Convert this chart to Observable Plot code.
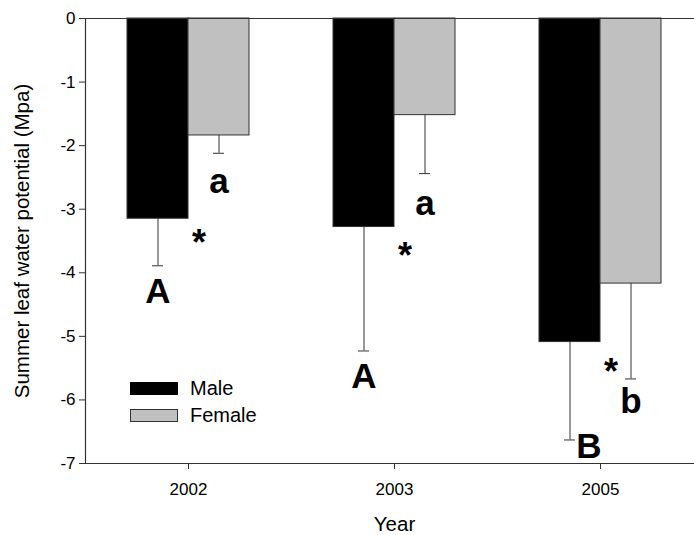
<!DOCTYPE html>
<html>
<head>
<meta charset="utf-8">
<script src="https://cdn.jsdelivr.net/npm/d3@7"></script>
<script src="https://cdn.jsdelivr.net/npm/@observablehq/plot@0.6"></script>
<style>
  html, body { margin: 0; padding: 0; background: #fff; overflow: hidden; }
  #wrap { position: relative; width: 694px; height: 535px; font-family: "Liberation Sans", Arial, sans-serif; }
  #wrap svg { display: block; }
  .lg-item { position: absolute; left: 130px; height: 20px; line-height: 20px; font-size: 20px; color: #000; white-space: nowrap; }
  .lg-box { position: absolute; left: 0; width: 48px; height: 13px; box-sizing: border-box; }
  .lg-text { position: absolute; left: 60px; top: 0; }
</style>
</head>
<body>
<div id="wrap"></div>
<script>
// ---- data ----
const years = ["2002", "2003", "2005"];
const sexes = ["Male", "Female"];
const sexColors = ["#000000", "#c0c0c0"];
const maleMean = [-3.15, -3.28, -5.09];
const femaleMean = [-1.84, -1.52, -4.17];
const maleLower = [-3.89, -5.23, -6.63];     // end of error bar
const femaleLower = [-2.12, -2.44, -5.67];
const maleLetters = ["A", "A", "B"];
const femaleLetters = ["a", "a", "b"];
const maleLetterY = [-4.48, -5.81, -6.91];   // letter baselines (data units)
const femaleLetterY = [-2.75, -3.09, -6.21];
const starY = [-3.41, -3.61, -5.45];          // asterisk centres (data units)
const yTicks = [0, -1, -2, -3, -4, -5, -6, -7];

const rows = years.flatMap((yr, i) => [
  {year: yr, sex: "Male", mean: maleMean[i], lower: maleLower[i], letter: maleLetters[i], letterY: maleLetterY[i]},
  {year: yr, sex: "Female", mean: femaleMean[i], lower: femaleLower[i], letter: femaleLetters[i], letterY: femaleLetterY[i]}
]);
const stars = years.map((yr, i) => ({year: yr, y: starY[i]}));

const font = "'Liberation Sans', Arial, sans-serif";
const ink = "#333333";

const chart = Plot.plot({
  width: 694,
  height: 535,
  marginLeft: 84,
  marginRight: -10,
  marginTop: 18,
  marginBottom: 72,
  style: {fontFamily: font, background: "#fff", color: "#000", overflow: "hidden"},
  fx: {domain: years, padding: 0, label: null},
  x: {domain: sexes, paddingInner: 0, paddingOuter: 0.667, axis: null},
  y: {domain: [-7, 0]},
  color: {domain: sexes, range: sexColors},
  marks: [
    Plot.barY(rows, {fx: "year", x: "sex", y1: 0, y2: "mean", fill: "sex", stroke: ink, strokeWidth: 1}),
    Plot.ruleX(rows, {fx: "year", x: "sex", y1: "mean", y2: "lower", stroke: ink, strokeWidth: 1}),
    Plot.tickY(rows, {fx: "year", x: "sex", y: "lower", stroke: ink, strokeWidth: 1, insetLeft: 25, insetRight: 25}),
    Plot.ruleY([0], {stroke: ink, strokeWidth: 1.2}),
    Plot.ruleY([-7], {stroke: ink, strokeWidth: 1.2}),
    Plot.frame({anchor: "left", facetAnchor: "left", stroke: ink, strokeWidth: 1.2}),
    // tick marks and tick labels
    Plot.axisY({
      ticks: yTicks, tickSize: 6, tickPadding: 4, tickFormat: d => String(d),
      fontSize: 17, stroke: ink, label: null
    }),
    // axis title (larger type)
    Plot.axisY({
      ticks: [], fontSize: 20.5,
      label: "Summer leaf water potential (Mpa)", labelAnchor: "center", labelArrow: "none", labelOffset: 71
    }),
    Plot.axisFx({
      anchor: "bottom", tickSize: 6, tickPadding: 13, fontSize: 17, stroke: ink, label: null
    }),
    Plot.axisFx({
      anchor: "bottom", ticks: [], fontSize: 20.5,
      label: "Year", labelAnchor: "center", labelArrow: "none", labelOffset: 67
    }),
    Plot.text(rows.filter(d => !(d.year === "2005" && d.sex === "Male")), {
      fx: "year", x: "sex", y: "letterY", text: "letter",
      fontSize: 35, fontWeight: "bold", lineAnchor: "bottom", fill: "#000"
    }),
    Plot.text(rows.filter(d => d.year === "2005" && d.sex === "Male"), {
      fx: "year", x: "sex", y: "letterY", text: "letter", dx: 19,
      fontSize: 35, fontWeight: "bold", lineAnchor: "bottom", fill: "#000"
    }),
    Plot.text(stars, {
      fx: "year", x: () => "Female", y: "y", text: () => "*", dx: -20, dy: 8,
      fontSize: 36, fontWeight: "bold", lineAnchor: "middle", fill: "#000"
    })
  ]
});

const wrap = document.getElementById("wrap");
wrap.appendChild(chart);

// legend drawn inside the plot area, using the chart's colour scale
const color = chart.scale("color");
const legendTops = [378, 405];
color.domain.forEach((name, i) => {
  const item = document.createElement("div");
  item.className = "lg-item";
  item.style.top = legendTops[i] + "px";
  const box = document.createElement("div");
  box.className = "lg-box";
  box.style.top = "4px";
  box.style.background = color.range[i];
  box.style.border = i === 0 ? "none" : "1px solid " + ink;
  const txt = document.createElement("span");
  txt.className = "lg-text";
  txt.textContent = name;
  item.appendChild(box);
  item.appendChild(txt);
  wrap.appendChild(item);
});
</script>
</body>
</html>
